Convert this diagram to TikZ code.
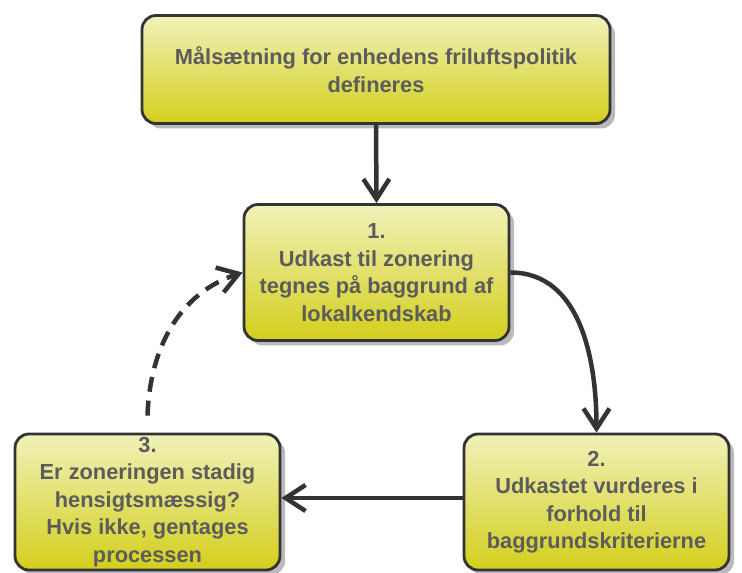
\documentclass[tikz,border=0pt]{standalone}
\usepackage{fontspec}
\setmainfont{Liberation Sans}
\usepackage{xcolor}
\definecolor{boxtop}{HTML}{F1F1BA}
\definecolor{boxbottom}{HTML}{D3CF1C}
\definecolor{boxline}{HTML}{333333}
\definecolor{boxtext}{HTML}{5C5C5C}
\tikzset{stepbox/.style={draw=boxline, line width=2.8pt, rounded corners=14pt,
   top color=boxtop, bottom color=boxbottom, text=boxtext,
   font=\fontsize{21.8}{27.5}\selectfont\bfseries, align=center, inner sep=0pt,
   minimum width=265pt, minimum height=136pt,
   drop shadow={shadow xshift=5pt, shadow yshift=-5pt, opacity=0.45, fill=black!60}},
 flow/.style={draw=boxline, line width=4.5pt,
   -{Straight Barb[length=20pt,width=26pt]}},
 backflow/.style={flow, dash pattern=on 15pt off 9pt},
 }
\usetikzlibrary{arrows.meta}
\usetikzlibrary{shadows}

\begin{document}
\begin{tikzpicture}[x=1pt,y=1pt]
        \useasboundingbox (0,0) rectangle (742,573);
        \node[stepbox, minimum width=468pt, minimum height=108pt] (goal) at (376,503.5)
            {Målsætning for enhedens friluftspolitik\\defineres};
        \node[stepbox] (b1) at (376.5,300.5)
            {1.\\Udkast til zonering\\tegnes på baggrund af\\lokalkendskab};
        \node[stepbox] (b2) at (596.5,71)
            {2.\\Udkastet vurderes i\\forhold til\\baggrundskriterierne};
        \node[stepbox] (b3) at (147.5,71)
            {3.\\Er zoneringen stadig\\hensigtsmæssig?\\Hvis ikke, gentages\\processen};
        \coordinate (back) at ([yshift=17pt]b3.north);
        \draw[flow] (goal.south) -- (b1.north);
        \draw[flow] (b1.east) to[out=0,in=90] (b2.north);
        \draw[flow] ([yshift=4pt]b2.west) -- ([yshift=4pt]b3.east);
        \draw[backflow] (back) to[out=88,in=198] (b1.west);
    \end{tikzpicture}
\end{document}
